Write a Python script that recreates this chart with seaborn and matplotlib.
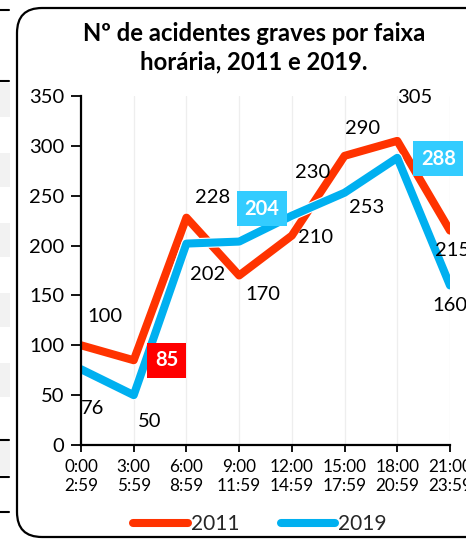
"""Serious accidents by time band, 2011 vs 2019."""

import matplotlib.pyplot as plt
import matplotlib.patheffects as pe
import pandas as pd
import seaborn as sns
from matplotlib.lines import Line2D
from matplotlib.patches import FancyBboxPatch, Rectangle

# data
faixas = ["0:00\n2:59", "3:00\n5:59", "6:00\n8:59", "9:00\n11:59",
          "12:00\n14:59", "15:00\n17:59", "18:00\n20:59", "21:00\n23:59"]
acidentes_2011 = [100, 85, 228, 170, 210, 290, 305, 215]
acidentes_2019 = [76, 50, 202, 204, 230, 253, 288, 160]
anos = ["2011", "2019"]

# style
RED = "#FF3300"
BLUE = "#00B0F0"
FONT = ["Lato", "DejaVu Sans"]
# label offsets (pixels) from each point
off_2011 = [(24, 29), (33, 0), (26, 20), (24, -19), (24, -2), (18, 27), (17, 43), (3, -20)]
off_2019 = [(12, -39), (16, -26), (21, -31), (23, 33), (21, 43), (22, -15), (41, -1), (0, -20)]
box_2011 = {1: "#FF0000"}
box_2019 = {3: "#33CCFF", 6: "#33CCFF"}


def main() -> None:
    sns.set_theme(style="white")
    plt.rcParams["font.family"] = FONT

    df = pd.DataFrame({
        "faixa": list(range(len(faixas))) * 2,
        "acidentes": acidentes_2011 + acidentes_2019,
        "ano": [anos[0]] * len(faixas) + [anos[1]] * len(faixas),
    })

    fig = plt.figure(figsize=(4.66, 5.39), dpi=100)
    W, H = 466, 539
    ax = fig.add_axes([81 / W, (539 - 445) / H, (450 - 81) / W, (445 - 96) / H])

    sns.lineplot(data=df, x="faixa", y="acidentes", hue="ano",
                 palette=[RED, BLUE], linewidth=5.8, ax=ax, legend=False)
    for ln in ax.lines:
        ln.set_solid_joinstyle("round")
        ln.set_path_effects([pe.Stroke(linewidth=7.4, foreground="white"), pe.Normal()])

    ax.set_xlim(0, 7)
    ax.set_ylim(0, 350)
    ax.set_yticks(range(0, 351, 50))
    ax.set_xticks(range(len(faixas)))
    ax.set_xticklabels(faixas, fontsize=12.3, linespacing=1.25)
    ax.tick_params(axis="y", labelsize=14.5, length=7, width=1.3, pad=5,
                   left=True, colors="black")
    ax.tick_params(axis="x", length=5, width=1.3, pad=5, bottom=True, colors="black")
    ax.set_xlabel("")
    ax.set_ylabel("")
    for s in ["top", "right"]:
        ax.spines[s].set_visible(False)
    for s in ["left", "bottom"]:
        ax.spines[s].set_color("black")
        ax.spines[s].set_linewidth(1.6)
    ax.grid(axis="x", color="#eeeeee", linewidth=0.9)
    ax.grid(axis="y", visible=False)
    ax.set_axisbelow(True)

    # data labels
    for vals, offs, boxes in [(acidentes_2011, off_2011, box_2011),
                              (acidentes_2019, off_2019, box_2019)]:
        for i, (v, (dx, dy)) in enumerate(zip(vals, offs)):
            if i in boxes:
                ax.annotate(str(v), (i, v), xytext=(dx, dy), textcoords="offset pixels",
                            ha="center", va="center", fontsize=14.5, fontweight="bold",
                            color="white", annotation_clip=False,
                            bbox=dict(boxstyle="square,pad=0.38", fc=boxes[i], ec="none"))
            else:
                ax.annotate(str(v), (i, v), xytext=(dx, dy), textcoords="offset pixels",
                            ha="center", va="center", fontsize=14.5, color="black",
                            annotation_clip=False)

    fig.text(254 / W, 1 - 48 / H, "Nº de acidentes graves por faixa\nhorária, 2011 e 2019.",
             ha="center", va="center", fontsize=17.2, fontweight="bold",
             linespacing=1.3, color="black")

    handles = [Line2D([], [], color=RED, linewidth=5.8, solid_capstyle="round"),
               Line2D([], [], color=BLUE, linewidth=5.8, solid_capstyle="round")]
    fig.legend(handles, anos, loc="center", bbox_to_anchor=(260 / W, 1 - 524 / H),
               ncol=2, frameon=False, fontsize=15, handlelength=2.6,
               handletextpad=0.15, columnspacing=2.0)

    # rounded chart frame
    fig.patches.append(FancyBboxPatch((17 / 100, 2 / 100), 520 / 100, 529 / 100,
                                      boxstyle="round,pad=0,rounding_size=0.25",
                                      transform=fig.dpi_scale_trans, fc="none",
                                      ec="black", lw=1.6, figure=fig))
    # fragments of the neighbouring table on the left edge
    for top in [83, 153, 223, 293, 363, 441]:
        fig.patches.append(Rectangle((0, 1 - (top + 34) / H), 10 / W, 34 / H,
                                     transform=fig.transFigure, fc="#f2f2f2",
                                     ec="none", figure=fig))
    for y in [10, 81, 440, 477, 512]:
        fig.lines.append(Line2D([0, 9 / W], [1 - y / H] * 2, transform=fig.transFigure,
                                color="black", lw=1.5, figure=fig))

    fig.savefig("out.png", dpi=100)
    plt.close(fig)


if __name__ == "__main__":
    main()
